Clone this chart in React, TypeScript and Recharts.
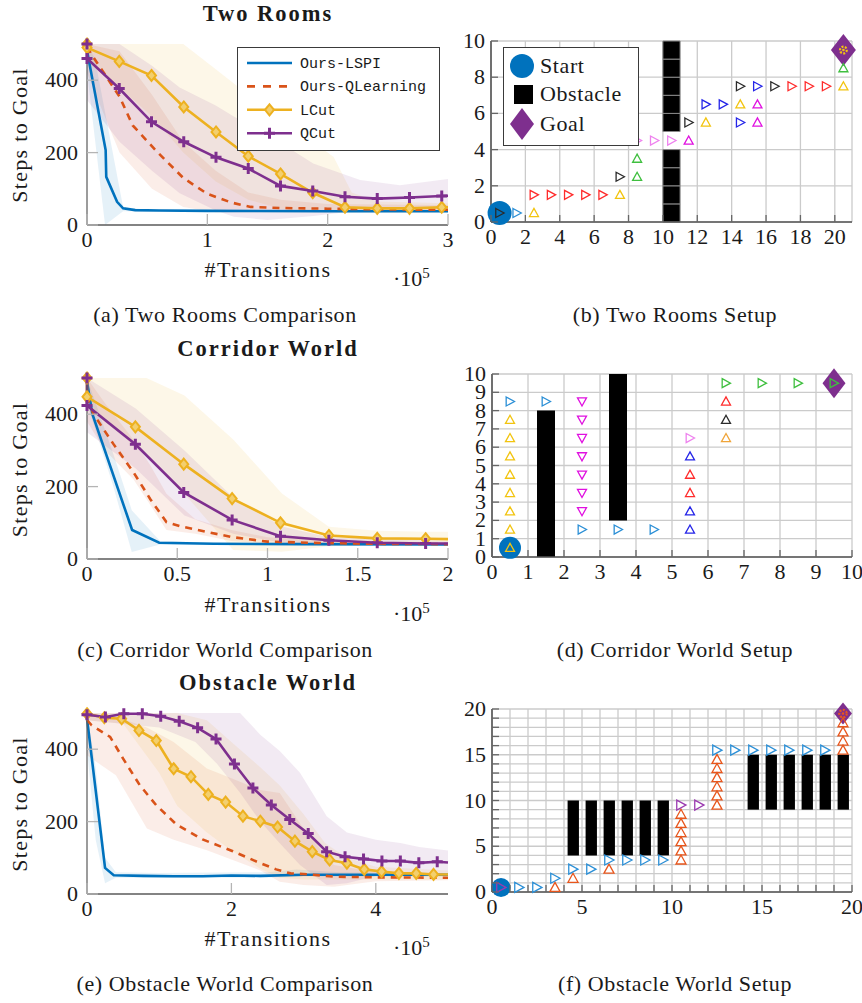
import React from 'react';
import { ComposedChart, Line, Area, XAxis, YAxis, CartesianGrid, Scatter, ReferenceArea, Legend } from 'recharts';

const SERIF = '"Liberation Serif", "Times New Roman", serif';
const MONO = '"Liberation Mono", "DejaVu Sans Mono", monospace';
const TXT = '#1a1a1a';

const C_LSPI = '#0072BD';
const C_QL = '#D95319';
const C_LCUT = '#EDB120';
const C_QCUT = '#7E2F8E';

type Band = [number, number, number][];

// ---------------- Two Rooms comparison ----------------
const trLspiX = [0, 0.155, 0.16, 0.25, 0.3, 0.4, 0.6, 1, 2, 3];
const trLspiY = [482, 207, 133, 64, 46, 41, 40, 39, 38, 38];
const trQlX = [0, 0.05, 0.27, 0.38, 0.58, 0.8, 1.0, 1.2, 1.36, 1.6, 2.0, 2.5, 3];
const trQlY = [492, 465, 355, 275, 203, 130, 86, 62, 50, 47, 45, 43, 42];
const trCutX = [0, 0, 0.268, 0.536, 0.804, 1.072, 1.34, 1.608, 1.876, 2.144, 2.412, 2.68, 2.948];
const trLcutY = [500, 490, 452, 413, 326, 257, 190, 141, 89, 49, 46, 46, 49];
const trQcutY = [500, 460, 377, 285, 230, 187, 156, 108, 94, 78, 73, 76, 80];
const trLcutEdge: [number, number] = [3, 49];
const trQcutEdge: [number, number] = [3, 81];
const trLspiBand: Band = [[0, 424, 500], [0.066, 237, 460], [0.15, 0, 312], [0.3, 38, 50], [0.5, 37, 42], [3, 36, 41]];
const trQlBand: Band = [[0, 420, 500], [0.27, 200, 480], [0.54, 100, 360], [0.8, 50, 230], [1.07, 35, 150], [1.34, 35, 90], [1.61, 35, 70], [2, 35, 58], [3, 35, 55]];
const trLcutBand: Band = [[0, 450, 500], [0.27, 380, 500], [0.54, 300, 500], [0.8, 200, 500], [1.07, 120, 430], [1.34, 70, 360], [1.61, 45, 290], [1.88, 35, 230], [2.05, 35, 188], [2.2, 35, 90], [2.41, 35, 65], [3, 35, 60]];
const trQcutBand: Band = [[0, 345, 500], [0.27, 230, 500], [0.54, 150, 440], [0.77, 88, 380], [1.07, 40, 330], [1.22, 23, 300], [1.5, 14, 250], [1.88, 25, 170], [2.27, 40, 124], [2.6, 42, 110], [3, 42, 127]];

// ---------------- Corridor World comparison ----------------
const crLspiX = [0, 0.03, 0.25, 0.4, 0.7, 1.2, 2];
const crLspiY = [490, 400, 80, 45, 42, 41, 40];
const crQlX = [0, 0.035, 0.146, 0.257, 0.35, 0.44, 0.52, 0.67, 0.81, 1.0, 1.3, 1.6, 2];
const crQlY = [450, 401, 318, 240, 166, 102, 90, 74, 60, 48, 44, 42, 41];
const crCutX = [0, 0, 0.268, 0.536, 0.804, 1.072, 1.34, 1.608, 1.876];
const crLcutY = [500, 448, 365, 262, 167, 100, 65, 57, 56];
const crQcutY = [500, 424, 317, 184, 108, 63, 52, 45, 43];
const crLcutEdge: [number, number] = [2, 55];
const crQcutEdge: [number, number] = [2, 43];
const crLspiBand: Band = [[0, 430, 500], [0.146, 200, 290], [0.248, 19, 135], [0.405, 40, 50], [0.7, 39, 45], [2, 38, 43]];
const crQlBand: Band = [[0, 380, 500], [0.1, 300, 430], [0.257, 220, 330], [0.35, 150, 260], [0.44, 80, 180], [0.6, 70, 110], [0.8, 50, 80], [1.0, 42, 60], [1.5, 38, 48], [2, 38, 45]];
const crLcutBand: Band = [[0, 420, 500], [0.27, 310, 500], [0.33, 290, 500], [0.54, 180, 452], [0.81, 25, 330], [1.08, 20, 181], [1.34, 35, 89], [1.61, 40, 78], [1.88, 40, 75], [2, 40, 75]];
const crQcutBand: Band = [[0, 350, 500], [0.27, 250, 416], [0.54, 120, 300], [0.81, 70, 170], [1.08, 45, 90], [1.34, 40, 60], [2, 38, 50]];

// ---------------- Obstacle World comparison ----------------
const owLspiX = [0, 0.25, 0.37, 0.78, 1.2, 1.6, 2.0, 2.4, 3.0, 4, 5];
const owLspiY = [485, 72, 52, 50, 49, 49, 51, 50, 53, 53, 53];
const owQlX = [0, 0.065, 0.32, 0.5, 0.73, 0.96, 1.24, 1.6, 2.02, 2.39, 2.62, 2.82, 3.08, 3.42, 4, 5];
const owQlY = [480, 466, 434, 374, 301, 245, 192, 151, 118, 86, 68, 57, 54, 48, 46, 45];
const owLcutX = [0, 0.24, 0.48, 0.72, 0.96, 1.2, 1.44, 1.68, 1.92, 2.16, 2.4, 2.64, 2.88, 3.12, 3.36, 3.6, 3.84, 4.08, 4.32, 4.56, 4.8];
const owLcutY = [498, 487, 484, 452, 424, 346, 324, 275, 254, 215, 201, 185, 146, 117, 94, 85, 68, 62, 57, 57, 54];
const owQcutX = [0, 0.255, 0.51, 0.766, 1.021, 1.277, 1.532, 1.787, 2.042, 2.298, 2.553, 2.808, 3.064, 3.319, 3.574, 3.83, 4.085, 4.34, 4.596, 4.851];
const owQcutY = [495, 489, 498, 498, 491, 477, 459, 428, 359, 293, 246, 206, 167, 117, 103, 97, 91, 91, 86, 89];
const owLcutEdge: [number, number] = [5, 54];
const owQcutEdge: [number, number] = [5, 87];
const owLspiBand: Band = [[0, 400, 500], [0.12, 150, 350], [0.25, 30, 100], [0.4, 45, 60], [1, 45, 58], [2.5, 45, 60], [2.9, 48, 68], [3.5, 48, 60], [5, 48, 58]];
const owQlBand: Band = [[0, 383, 500], [0.4, 328, 490], [0.83, 181, 460], [1.2, 150, 420], [1.66, 121, 347], [2.0, 95, 320], [2.4, 65, 287], [2.67, 34, 279], [3.0, 25, 180], [3.42, 20, 80], [4, 35, 60], [5, 38, 55]];
const owLcutBand: Band = [[0, 480, 500], [0.5, 470, 500], [1.0, 335, 500], [1.25, 243, 500], [1.66, 170, 480], [2.0, 120, 420], [2.4, 70, 350], [2.67, 45, 300], [3.0, 40, 220], [3.3, 40, 140], [3.6, 40, 100], [4.0, 40, 75], [5, 40, 65]];
const owQcutBand: Band = [[0, 480, 500], [1.0, 460, 500], [1.5, 420, 500], [1.8, 360, 500], [2.12, 280, 500], [2.4, 200, 440], [2.67, 140, 395], [2.95, 80, 335], [3.32, 25, 215], [3.6, 30, 170], [4.0, 50, 150], [4.34, 52, 141], [4.6, 55, 130], [5, 55, 120]];

const trXTicks = [0, 1, 2, 3];
const crXTicks = [0, 0.5, 1, 1.5, 2];
const owXTicks = [0, 2, 4];
const stepTicks = [0, 200, 400];
const SERIES_ORDER = ['Ours-LSPI', 'Ours-QLearning', 'LCut', 'QCut'];

// ---------------- Grid world setups ----------------
type Mark = [number, number, string, string];
const trSetupMarks: Mark[] = [
  [0.5, 0.5, 'k', 'R'], [1.5, 0.5, 'c', 'R'], [2.5, 0.5, 'y', 'U'],
  [2.5, 1.5, 'r', 'R'], [3.5, 1.5, 'r', 'R'], [4.5, 1.5, 'r', 'R'], [5.5, 1.5, 'r', 'R'], [6.5, 1.5, 'r', 'R'],
  [7.5, 1.5, 'y', 'U'], [7.5, 2.5, 'k', 'R'], [8.5, 2.5, 'g', 'U'], [8.5, 3.5, 'g', 'U'],
  [8.5, 4.5, 'v', 'R'], [9.5, 4.5, 'v', 'R'], [10.5, 4.5, 'v', 'R'], [11.5, 4.5, 'm', 'U'],
  [11.5, 5.5, 'k', 'R'], [12.5, 5.5, 'y', 'U'], [12.5, 6.5, 'b', 'R'], [13.5, 6.5, 'b', 'R'], [14.5, 6.5, 'y', 'U'], [15.5, 6.5, 'm', 'U'],
  [14.5, 5.5, 'b', 'R'], [15.5, 5.5, 'm', 'U'],
  [14.5, 7.5, 'k', 'R'], [15.5, 7.5, 'b', 'R'], [16.5, 7.5, 'k', 'R'], [17.5, 7.5, 'r', 'R'], [18.5, 7.5, 'r', 'R'], [19.5, 7.5, 'r', 'R'],
  [20.5, 7.5, 'y', 'U'], [20.5, 8.5, 'g', 'U'], [20.5, 9.5, 'y', 'S'],
];
const trObstacles: [number, number, number, number][] = [
  [10, 11, 0, 1], [10, 11, 1, 2], [10, 11, 2, 3], [10, 11, 3, 4],
  [10, 11, 5, 6], [10, 11, 6, 7], [10, 11, 7, 8], [10, 11, 8, 9], [10, 11, 9, 10],
];
const trStart = [{ x: 0.5, y: 0.5 }];
const trGoal = [{ x: 20.5, y: 9.5 }];
const trGridX = [0, 2, 4, 6, 8, 10, 12, 14, 16, 18, 20];
const trGridY = [0, 2, 4, 6, 8, 10];

const crSetupMarks: Mark[] = [
  [0.5, 0.5, 'y', 'U'], [0.5, 1.5, 'y', 'U'], [0.5, 2.5, 'y', 'U'], [0.5, 3.5, 'y', 'U'], [0.5, 4.5, 'y', 'U'], [0.5, 5.5, 'y', 'U'], [0.5, 6.5, 'y', 'U'], [0.5, 7.5, 'y', 'U'],
  [0.5, 8.5, 'c', 'R'], [1.5, 8.5, 'c', 'R'],
  [2.5, 8.5, 'm', 'D'], [2.5, 7.5, 'm', 'D'], [2.5, 6.5, 'm', 'D'], [2.5, 5.5, 'm', 'D'], [2.5, 4.5, 'm', 'D'], [2.5, 3.5, 'm', 'D'], [2.5, 2.5, 'm', 'D'],
  [2.5, 1.5, 'c', 'R'], [3.5, 1.5, 'c', 'R'], [4.5, 1.5, 'c', 'R'],
  [5.5, 1.5, 'b', 'U'], [5.5, 2.5, 'b', 'U'], [5.5, 3.5, 'r', 'U'], [5.5, 4.5, 'r', 'U'], [5.5, 5.5, 'b', 'U'],
  [5.5, 6.5, 'v', 'R'], [6.5, 6.5, 'o', 'U'], [6.5, 7.5, 'k', 'U'], [6.5, 8.5, 'r', 'U'],
  [6.5, 9.5, 'g', 'R'], [7.5, 9.5, 'g', 'R'], [8.5, 9.5, 'g', 'R'], [9.5, 9.5, 'g', 'R'],
];
const crObstacles: [number, number, number, number][] = [[1.25, 1.75, 0, 8], [3.25, 3.75, 2, 10]];
const crStart = [{ x: 0.5, y: 0.5 }];
const crGoal = [{ x: 9.5, y: 9.5 }];
const crGrid = [0, 1, 2, 3, 4, 5, 6, 7, 8, 9, 10];

const owSetupMarks: Mark[] = [
  [0.5, 0.5, 'p', 'R'], [1.5, 0.5, 'c', 'R'], [2.5, 0.5, 'c', 'R'], [3.5, 0.5, 'e', 'U'], [3.5, 1.5, 'c', 'R'],
  [4.5, 1.5, 'e', 'U'], [4.5, 2.5, 'c', 'R'], [5.5, 2.5, 'c', 'R'], [6.5, 2.5, 'e', 'U'],
  [6.5, 3.5, 'c', 'R'], [7.5, 3.5, 'c', 'R'], [8.5, 3.5, 'c', 'R'], [9.5, 3.5, 'c', 'R'],
  [10.5, 3.5, 'e', 'U'], [10.5, 4.5, 'e', 'U'], [10.5, 5.5, 'e', 'U'], [10.5, 6.5, 'e', 'U'], [10.5, 7.5, 'e', 'U'], [10.5, 8.5, 'e', 'U'],
  [10.5, 9.5, 'p', 'R'], [11.5, 9.5, 'p', 'R'],
  [12.5, 9.5, 'e', 'U'], [12.5, 10.5, 'e', 'U'], [12.5, 11.5, 'e', 'U'], [12.5, 12.5, 'e', 'U'], [12.5, 13.5, 'e', 'U'], [12.5, 14.5, 'e', 'U'],
  [12.5, 15.5, 'c', 'R'], [13.5, 15.5, 'c', 'R'], [14.5, 15.5, 'c', 'R'], [15.5, 15.5, 'c', 'R'], [16.5, 15.5, 'c', 'R'], [17.5, 15.5, 'c', 'R'], [18.5, 15.5, 'c', 'R'],
  [19.5, 15.5, 'e', 'U'], [19.5, 16.5, 'e', 'U'], [19.5, 17.5, 'e', 'U'], [19.5, 18.5, 'e', 'U'], [19.5, 19.5, 'e', 'S'],
];
const owObstacles: [number, number, number, number][] = [
  [4.2, 4.83, 4, 10], [5.2, 5.83, 4, 10], [6.2, 6.83, 4, 10], [7.2, 7.83, 4, 10], [8.2, 8.83, 4, 10], [9.2, 9.83, 4, 10],
  [14.2, 14.83, 9, 15], [15.2, 15.83, 9, 15], [16.2, 16.83, 9, 15], [17.2, 17.83, 9, 15], [18.2, 18.83, 9, 15], [19.2, 19.83, 9, 15],
];
const owStart = [{ x: 0.5, y: 0.5 }];
const owGoal = [{ x: 19.5, y: 19.5 }];
const owGrid = [0, 1, 2, 3, 4, 5, 6, 7, 8, 9, 10, 11, 12, 13, 14, 15, 16, 17, 18, 19, 20];

const OPT_COLOR: Record<string, string> = {
  k: '#2a2a2a', c: '#2b8fd6', y: '#f2c40f', r: '#ff2b2b', g: '#3fbf3f', v: '#ee82ee',
  m: '#e010e0', b: '#2525e8', o: '#f0a53a', p: '#9b3bb0', e: '#e8561c',
};

// ---------------- helpers ----------------
const mkLine = (xs: number[], ys: number[], edge?: [number, number]) => {
  const pts = xs.map((x, i) => ({ x, y: ys[i], m: true }));
  if (edge) pts.push({ x: edge[0], y: edge[1], m: false });
  return pts;
};
const mkBand = (b: Band) => b.map(([x, lo, hi]) => ({ x, r: [lo, hi] }));
const mkMarks = (arr: Mark[]) => arr.map(([x, y, o, d]) => ({ x, y, o, d }));

const diamondDot = (p: any) => {
  const { cx, cy, payload, index } = p;
  if (!payload || !payload.m || cx == null) return <g key={'dd' + index} />;
  return (
    <polygon key={'dd' + index} points={`${cx},${cy - 5.5} ${cx + 4.5},${cy} ${cx},${cy + 5.5} ${cx - 4.5},${cy}`}
      fill="#F3CF6E" stroke={C_LCUT} strokeWidth={2} />
  );
};
const plusDot = (p: any) => {
  const { cx, cy, payload, index } = p;
  if (!payload || !payload.m || cx == null) return <g key={'pd' + index} />;
  return <path key={'pd' + index} d={`M${cx - 5.5},${cy}H${cx + 5.5}M${cx},${cy - 5.5}V${cy + 5.5}`} stroke={C_QCUT} strokeWidth={3} />;
};

const curveXTick = (p: any) => {
  const { x, y, payload } = p;
  return (
    <g>
      <line x1={x} x2={x} y1={y} y2={y - 11} stroke="#b4b4b4" strokeWidth={1.3} />
      <text x={x} y={y + 22} textAnchor="middle" fontFamily={SERIF} fontSize={22} fill={TXT}>{String(payload.value)}</text>
    </g>
  );
};
const curveYTick = (p: any) => {
  const { x, y, payload } = p;
  return (
    <g>
      <line x1={x} x2={x + 11} y1={y} y2={y} stroke="#b4b4b4" strokeWidth={1.3} />
      <text x={x - 9} y={y + 7} textAnchor="end" fontFamily={SERIF} fontSize={22} fill={TXT}>{String(payload.value)}</text>
    </g>
  );
};

const gridXTick = (every: number) => (p: any) => {
  const { x, y, payload } = p;
  const v = payload.value;
  return (
    <g>
      <line x1={x} x2={x} y1={y} y2={y - 7} stroke="#666" strokeWidth={1.3} />
      {v % every === 0 && <text x={x} y={y + 22} textAnchor="middle" fontFamily={SERIF} fontSize={22} fill={TXT}>{String(v)}</text>}
    </g>
  );
};
const gridYTick = (every: number) => (p: any) => {
  const { x, y, payload } = p;
  const v = payload.value;
  return (
    <g>
      <line x1={x} x2={x + 7} y1={y} y2={y} stroke="#666" strokeWidth={1.3} />
      {v % every === 0 && <text x={x - 6} y={y + 7} textAnchor="end" fontFamily={SERIF} fontSize={22} fill={TXT}>{String(v)}</text>}
    </g>
  );
};

const MARKER_OF: Record<string, string> = { LCut: 'diamond', QCut: 'plus' };
const DASH_OF: Record<string, string> = { 'Ours-QLearning': '8 8' };

const CurveLegend = ({ payload }: any) => {
  const items = (payload || [])
    .filter((e: any) => e.type !== 'none' && SERIES_ORDER.indexOf(e.value) >= 0)
    .slice()
    .sort((a: any, b: any) => SERIES_ORDER.indexOf(a.value) - SERIES_ORDER.indexOf(b.value));
  return (
    <div style={{ width: 203, height: 104, border: '1px solid #3a3a3a', background: '#fff', boxSizing: 'border-box' }}>
      <svg width={201} height={102} style={{ display: 'block' }}>
        {items.map((e: any, i: number) => {
          const cy = 15 + i * 23.4;
          const mk = MARKER_OF[e.value];
          return (
            <g key={e.value}>
              <line x1={9} x2={54} y1={cy} y2={cy} stroke={e.color} strokeWidth={2.6} strokeDasharray={DASH_OF[e.value]} />
              {mk === 'diamond' && <polygon points={`31.5,${cy - 5.5} 36,${cy} 31.5,${cy + 5.5} 27,${cy}`} fill="#F3CF6E" stroke={C_LCUT} strokeWidth={2} />}
              {mk === 'plus' && <path d={`M26,${cy}H37M31.5,${cy - 5.5}V${cy + 5.5}`} stroke={C_QCUT} strokeWidth={3} />}
              <text x={62} y={cy + 5} fontFamily={MONO} fontSize={15} fill={TXT}>{e.value}</text>
            </g>
          );
        })}
      </svg>
    </div>
  );
};

const SetupLegend = () => (
  <div style={{ width: 136, height: 99, border: '1px solid #3a3a3a', background: '#fff', boxSizing: 'border-box' }}>
    <svg width={134} height={97} style={{ display: 'block' }}>
      <circle cx={18} cy={18} r={12} fill={C_LSPI} />
      <text x={36} y={25} fontFamily={SERIF} fontSize={22} fill={TXT} letterSpacing={0.6}>Start</text>
      <rect x={10} y={37} width={19} height={19} fill="#000" />
      <text x={36} y={53} fontFamily={SERIF} fontSize={22} fill={TXT} letterSpacing={0.6}>Obstacle</text>
      <polygon points="18,60 30,76 18,92 6,76" fill={C_QCUT} />
      <text x={36} y={83} fontFamily={SERIF} fontSize={22} fill={TXT} letterSpacing={0.6}>Goal</text>
    </svg>
  </div>
);

interface SeriesDef { name: string; color: string; dash?: string; marker?: string; line: any[]; band: Band }

const AX_H = 30; // x-axis band height
const AX_W = 60; // y-axis band width (curve panels)

function CurvePanel({ top, plotTop, plotBottom, xMax, xTicks, series, legend }: {
  top: number; plotTop: number; plotBottom: number; xMax: number; xTicks: number[]; series: SeriesDef[]; legend?: boolean;
}) {
  return (
    <div style={{ position: 'absolute', left: 0, top, width: 460, height: 300 }}>
      <ComposedChart width={460} height={300} margin={{ top: plotTop, right: 12, bottom: 300 - plotBottom - AX_H, left: 87 - AX_W }}>
        <XAxis type="number" dataKey="x" domain={[0, xMax]} ticks={xTicks} interval={0} height={AX_H} tickSize={0} tickMargin={0}
          tickLine={false} axisLine={{ stroke: '#5a5a5a', strokeWidth: 1.6 }} tick={curveXTick} />
        <YAxis type="number" domain={[0, 500]} ticks={stepTicks} interval={0} width={AX_W} tickSize={0} tickMargin={0}
          tickLine={false} axisLine={{ stroke: '#5a5a5a', strokeWidth: 1.2 }} tick={curveYTick} />
        {series.map((s) => (
          <Area key={'band-' + s.name} data={mkBand(s.band)} dataKey="r" type="linear" stroke="none" fill={s.color}
            fillOpacity={0.1} isAnimationActive={false} legendType="none" dot={false} activeDot={false} />
        ))}
        {series.map((s) => (
          <Line key={s.name} name={s.name} data={s.line} dataKey="y" type="linear" stroke={s.color} strokeWidth={2.6}
            strokeDasharray={s.dash} dot={s.marker === 'diamond' ? diamondDot : s.marker === 'plus' ? plusDot : false}
            activeDot={false} isAnimationActive={false} />
        ))}
        {legend && (
          <Legend layout="horizontal" align="center" verticalAlign="middle"
            wrapperStyle={{ left: 237, top: 47, width: 203, height: 104 }}
            content={(p: any) => <CurveLegend payload={p.payload} />} />
        )}
      </ComposedChart>
    </div>
  );
}

const markShape = (s: number) => (p: any) => {
  const { cx, cy, payload } = p;
  const col = OPT_COLOR[payload.o];
  const h = s / 2;
  if (payload.d === 'S') {
    return (
      <g>
        <circle cx={cx} cy={cy} r={h * 0.75} fill="none" stroke={col} strokeWidth={2.2} strokeDasharray="2 1.4" />
        <circle cx={cx} cy={cy} r={1.3} fill={col} />
      </g>
    );
  }
  let pts = '';
  if (payload.d === 'R') pts = `${cx - h * 0.85},${cy - h} ${cx + h},${cy} ${cx - h * 0.85},${cy + h}`;
  else if (payload.d === 'U') pts = `${cx - h},${cy + h * 0.8} ${cx},${cy - h} ${cx + h},${cy + h * 0.8}`;
  else pts = `${cx - h},${cy - h * 0.8} ${cx},${cy + h} ${cx + h},${cy - h * 0.8}`;
  return <polygon points={pts} fill="none" stroke={col} strokeWidth={1.3} strokeLinejoin="miter" />;
};
const startShape = (r: number) => (p: any) => <circle cx={p.cx} cy={p.cy} r={r} fill={C_LSPI} />;
const goalShape = (w: number, h: number) => (p: any) => (
  <polygon points={`${p.cx},${p.cy - h / 2} ${p.cx + w / 2},${p.cy} ${p.cx},${p.cy + h / 2} ${p.cx - w / 2},${p.cy}`} fill={C_QCUT} />
);

const GAX_W = 30;

function GridPanel({ top, plotTop, plotBottom, plotLeft, xMax, yMax, xTicks, yTicks, labelEvery, obstacles, cellStroke, start, goal, marks, triSize, startR, goalW, goalH, legend }: any) {
  return (
    <div style={{ position: 'absolute', left: 460, top, width: 402, height: 300 }}>
      <ComposedChart width={402} height={300} margin={{ top: plotTop, right: 10, bottom: 300 - plotBottom - AX_H, left: plotLeft - GAX_W }}>
        <CartesianGrid stroke="#cbcbcb" strokeWidth={1.3} />
        <XAxis type="number" dataKey="x" domain={[0, xMax]} ticks={xTicks} interval={0} height={AX_H} tickSize={0} tickMargin={0}
          tickLine={false} axisLine={{ stroke: '#555', strokeWidth: 1.6 }} tick={gridXTick(labelEvery)} />
        <YAxis type="number" dataKey="y" domain={[0, yMax]} ticks={yTicks} interval={0} width={GAX_W} tickSize={0} tickMargin={0}
          tickLine={false} axisLine={{ stroke: '#555', strokeWidth: 1.6 }} tick={gridYTick(labelEvery)} />
        {obstacles.map((o: number[], i: number) => (
          <ReferenceArea key={'ob' + i} x1={o[0]} x2={o[1]} y1={o[2]} y2={o[3]} fill="#000" fillOpacity={1}
            stroke={cellStroke} strokeWidth={1} ifOverflow="visible" />
        ))}
        <Scatter data={start} shape={startShape(startR)} isAnimationActive={false} legendType="none" />
        <Scatter data={goal} shape={goalShape(goalW, goalH)} isAnimationActive={false} legendType="none" />
        <Scatter data={mkMarks(marks)} shape={markShape(triSize)} isAnimationActive={false} legendType="none" />
        {legend && (
          <Legend layout="horizontal" align="center" verticalAlign="middle"
            wrapperStyle={{ left: 43, top: 47, width: 136, height: 99 }} content={() => <SetupLegend />} />
        )}
      </ComposedChart>
    </div>
  );
}

const T = (props: any) => <text fontFamily={SERIF} fill={TXT} {...props} />;

function Overlay() {
  const rows = [
    { title: 'Two Rooms', dy: 0, capL: '(a) Two Rooms Comparison', capR: '(b) Two Rooms Setup' },
    { title: 'Corridor World', dy: 334.5, capL: '(c) Corridor World Comparison', capR: '(d) Corridor World Setup' },
    { title: 'Obstacle World', dy: 669, capL: '(e) Obstacle World Comparison', capR: '(f) Obstacle World Setup' },
  ];
  return (
    <svg width={862} height={1003} style={{ position: 'absolute', left: 0, top: 0, pointerEvents: 'none' }}>
      {rows.map((r) => (
        <g key={r.title}>
          <T x={268} y={21 + r.dy} textAnchor="middle" fontSize={22.5} fontWeight="bold" letterSpacing={2}>{r.title}</T>
          <T x={26.5} y={135 + r.dy} textAnchor="middle" fontSize={22} letterSpacing={1.3} transform={`rotate(-90 26.5 ${135 + r.dy})`}>Steps to Goal</T>
          <T x={268} y={277 + r.dy} textAnchor="middle" fontSize={22} letterSpacing={1.5}>#Transitions</T>
          <T x={393} y={286 + r.dy} fontSize={22}>·10<tspan dy={-8} fontSize={15}>5</tspan></T>
          <T x={225} y={322 + r.dy} textAnchor="middle" fontSize={22} letterSpacing={0.6}>{r.capL}</T>
          <T x={675} y={322 + r.dy} textAnchor="middle" fontSize={22} letterSpacing={0.6}>{r.capR}</T>
        </g>
      ))}
    </svg>
  );
}

export default function App() {
  const trSeries: SeriesDef[] = [
    { name: 'Ours-LSPI', color: C_LSPI, line: mkLine(trLspiX, trLspiY), band: trLspiBand },
    { name: 'Ours-QLearning', color: C_QL, dash: '7 6', line: mkLine(trQlX, trQlY), band: trQlBand },
    { name: 'LCut', color: C_LCUT, marker: 'diamond', line: mkLine(trCutX, trLcutY, trLcutEdge), band: trLcutBand },
    { name: 'QCut', color: C_QCUT, marker: 'plus', line: mkLine(trCutX, trQcutY, trQcutEdge), band: trQcutBand },
  ];
  const crSeries: SeriesDef[] = [
    { name: 'Ours-LSPI', color: C_LSPI, line: mkLine(crLspiX, crLspiY), band: crLspiBand },
    { name: 'Ours-QLearning', color: C_QL, dash: '7 6', line: mkLine(crQlX, crQlY), band: crQlBand },
    { name: 'LCut', color: C_LCUT, marker: 'diamond', line: mkLine(crCutX, crLcutY, crLcutEdge), band: crLcutBand },
    { name: 'QCut', color: C_QCUT, marker: 'plus', line: mkLine(crCutX, crQcutY, crQcutEdge), band: crQcutBand },
  ];
  const owSeries: SeriesDef[] = [
    { name: 'Ours-LSPI', color: C_LSPI, line: mkLine(owLspiX, owLspiY), band: owLspiBand },
    { name: 'Ours-QLearning', color: C_QL, dash: '7 6', line: mkLine(owQlX, owQlY), band: owQlBand },
    { name: 'LCut', color: C_LCUT, marker: 'diamond', line: mkLine(owLcutX, owLcutY, owLcutEdge), band: owLcutBand },
    { name: 'QCut', color: C_QCUT, marker: 'plus', line: mkLine(owQcutX, owQcutY, owQcutEdge), band: owQcutBand },
  ];
  return (
    <div style={{ position: 'absolute', left: 0, top: 0, width: 862, height: 1003, background: '#fff' }}>
      <CurvePanel top={0} plotTop={44} plotBottom={225} xMax={3} xTicks={trXTicks} series={trSeries} legend />
      <CurvePanel top={330} plotTop={48} plotBottom={229} xMax={2} xTicks={crXTicks} series={crSeries} />
      <CurvePanel top={665} plotTop={48} plotBottom={229} xMax={5} xTicks={owXTicks} series={owSeries} />
      <GridPanel top={0} plotTop={41} plotBottom={222} plotLeft={31} xMax={21} yMax={10} xTicks={trGridX} yTicks={trGridY}
        labelEvery={1} obstacles={trObstacles} cellStroke="#8a8a8a" start={trStart} goal={trGoal} marks={trSetupMarks}
        triSize={9} startR={12} goalW={25} goalH={32} legend />
      <GridPanel top={330} plotTop={44} plotBottom={227} plotLeft={32} xMax={10} yMax={10} xTicks={crGrid} yTicks={crGrid}
        labelEvery={1} obstacles={crObstacles} cellStroke="none" start={crStart} goal={crGoal} marks={crSetupMarks}
        triSize={9} startR={11} goalW={23} goalH={30} />
      <GridPanel top={665} plotTop={44} plotBottom={227} plotLeft={32} xMax={20} yMax={20} xTicks={owGrid} yTicks={owGrid}
        labelEvery={5} obstacles={owObstacles} cellStroke="none" start={owStart} goal={owGoal} marks={owSetupMarks}
        triSize={10} startR={9.5} goalW={18} goalH={22} />
      <Overlay />
    </div>
  );
}
